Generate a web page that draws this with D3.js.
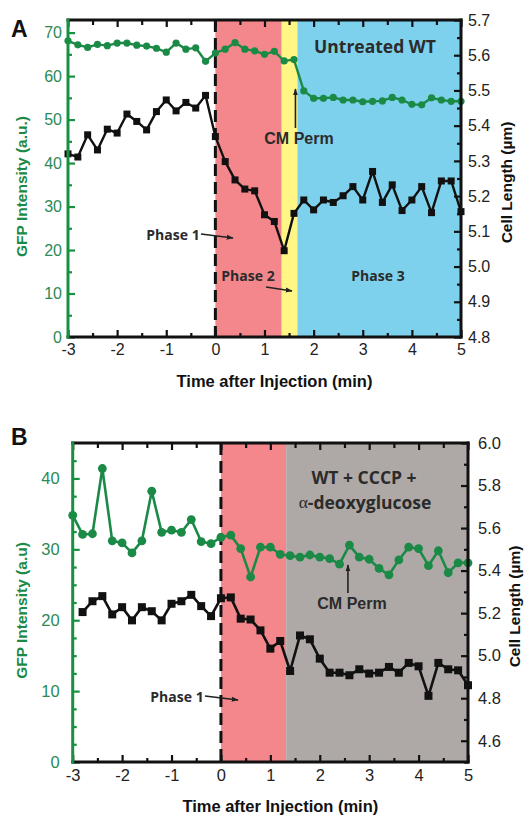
<!DOCTYPE html>
<html>
<head>
<meta charset="utf-8">
<script src="https://cdn.jsdelivr.net/npm/d3@7"></script>
<style>
  body { margin: 0; background: #fff; }
  svg { display: block; font-family: "Liberation Sans", Arial, sans-serif; }
</style>
</head>
<body>
<svg id="chart" width="526" height="819"></svg>
<script>
// ─── Data ─────────────────────────────────────────────────────────────────────
const timeMin = [-3, -2.8, -2.6, -2.4, -2.2, -2, -1.8, -1.6, -1.4, -1.2, -1, -0.8, -0.6, -0.4, -0.2,
                 0, 0.2, 0.4, 0.6, 0.8, 1, 1.2, 1.4, 1.6, 1.8, 2, 2.2, 2.4, 2.6, 2.8,
                 3, 3.2, 3.4, 3.6, 3.8, 4, 4.2, 4.4, 4.6, 4.8, 5];

// Panel A: untreated WT
const gfpUntreated = [68.1, 67.2, 66.6, 67.3, 67.0, 67.6, 67.6, 67.1, 66.9, 66.4, 65.5, 67.6, 66.2, 66.5, 63.4,
                      65.3, 66.2, 67.7, 66.2, 65.8, 65.0, 65.7, 63.5, 63.8, 56.6, 54.9, 54.9, 55.1, 54.5, 54.5,
                      54.1, 54.2, 54.3, 55.1, 54.5, 53.5, 53.4, 55.0, 54.5, 54.2, 54.2];
const lengthUntreated = [5.320, 5.311, 5.374, 5.331, 5.390, 5.379, 5.433, 5.412, 5.388, 5.440, 5.473, 5.442, 5.466, 5.450, 5.486,
                         5.369, 5.298, 5.246, 5.220, 5.215, 5.147, 5.128, 5.045, 5.151, 5.189, 5.161, 5.189, 5.182, 5.201, 5.227,
                         5.189, 5.270, 5.182, 5.232, 5.159, 5.189, 5.227, 5.153, 5.243, 5.243, 5.156];

// Panel B: WT + CCCP + alpha-deoxyglucose (no length point at -3)
const gfpCccp = [34.8, 32.1, 32.2, 41.4, 31.2, 30.9, 29.5, 31.2, 38.2, 32.4, 32.7, 32.4, 34.2, 31.1, 30.8,
                 31.7, 32.0, 30.1, 26.1, 30.3, 30.3, 29.3, 29.1, 28.9, 29.2, 28.9, 28.7, 27.9, 30.6, 28.9,
                 28.6, 27.3, 26.4, 28.5, 30.3, 30.1, 27.7, 29.8, 26.7, 28.1, 28.1];
const lengthCccp = [null, 5.205, 5.256, 5.280, 5.194, 5.228, 5.166, 5.228, 5.209, 5.166, 5.244, 5.256, 5.286, 5.233, 5.186,
                    5.270, 5.274, 5.174, 5.170, 5.119, 5.033, 5.069, 4.928, 5.095, 5.077, 4.986, 4.920, 4.920, 4.908, 4.936,
                    4.916, 4.920, 4.947, 4.920, 4.966, 4.950, 4.811, 4.966, 4.936, 4.931, 4.861];

// Phase bands (minutes)
const phasesUntreated = [
    { from: 0,    to: 1.35, fill: "#f4878b" },
    { from: 1.35, to: 1.67, fill: "#fff685" },
    { from: 1.67, to: 5,    fill: "#7ed1ec" },
];
const phasesCccp = [
    { from: 0,    to: 1.32, fill: "#f4878b" },
    { from: 1.32, to: 5,    fill: "#aea9a6" },
];

// Ticks
const timeTicks        = [-3, -2, -1, 0, 1, 2, 3, 4, 5];
const gfpTicksA        = [0, 10, 20, 30, 40, 50, 60, 70];
const lengthTicksA     = [4.8, 4.9, 5.0, 5.1, 5.2, 5.3, 5.4, 5.5, 5.6, 5.7];
const gfpTicksB        = [0, 10, 20, 30, 40];
const lengthTicksB     = [4.6, 4.8, 5.0, 5.2, 5.4, 5.6, 5.8, 6.0];

// ─── Styles ───────────────────────────────────────────────────────────────────
const GREEN      = "#1b8a47";
const GREEN_AXIS = "#17913f";
const GREEN_TEXT = "#2b8a57";
const INK        = "#2b2b2b";
const ANNOT_FONT = "'Open Sans', 'Noto Sans', sans-serif";

const svg = d3.select("#chart");

const defs = svg.append("defs");
defs.append("marker")
    .attr("id", "arrow")
    .attr("viewBox", "0 0 10 10")
    .attr("refX", 9).attr("refY", 5)
    .attr("markerWidth", 7).attr("markerHeight", 7)
    .attr("markerUnits", "userSpaceOnUse")
    .attr("orient", "auto")
  .append("path")
    .attr("d", "M0,1.5 L10,5 L0,8.5 Z")
    .attr("fill", "#222");

// ─── Panel drawing ────────────────────────────────────────────────────────────
function drawPanel(p) {
    const g = svg.append("g");

    const x  = d3.scaleLinear().domain([-3, 5]).range([p.left, p.right]);
    const yL = d3.scaleLinear().domain(p.gfpDomain).range([p.bottom, p.top]);
    const yR = d3.scaleLinear().domain(p.lenDomain).range([p.bottom, p.top]);

    // phase backgrounds
    g.selectAll("rect.phase")
        .data(p.phases)
        .join("rect")
        .attr("class", "phase")
        .attr("x", d => x(d.from))
        .attr("width", d => x(d.to) - x(d.from))
        .attr("y", p.top)
        .attr("height", p.bottom - p.top)
        .attr("fill", d => d.fill);

    // injection line
    g.append("line")
        .attr("x1", x(0)).attr("x2", x(0))
        .attr("y1", p.top).attr("y2", p.bottom)
        .attr("stroke", "#111")
        .attr("stroke-width", 3)
        .attr("stroke-dasharray", "12,6");

    // cell length (black squares, right axis)
    const lenPts = timeMin.map((t, i) => ({ t, v: p.length[i] })).filter(d => d.v != null);
    g.append("path")
        .datum(lenPts)
        .attr("fill", "none")
        .attr("stroke", "#111")
        .attr("stroke-width", p.lineW)
        .attr("stroke-linejoin", "round")
        .attr("d", d3.line().x(d => x(d.t)).y(d => yR(d.v)));
    g.selectAll("rect.sq")
        .data(lenPts)
        .join("rect")
        .attr("class", "sq")
        .attr("x", d => x(d.t) - p.sq / 2)
        .attr("y", d => yR(d.v) - p.sq / 2)
        .attr("width", p.sq).attr("height", p.sq)
        .attr("fill", "#111");

    // GFP (green circles, left axis)
    const gfpPts = timeMin.map((t, i) => ({ t, v: p.gfp[i] }));
    g.append("path")
        .datum(gfpPts)
        .attr("fill", "none")
        .attr("stroke", GREEN)
        .attr("stroke-width", p.lineW)
        .attr("stroke-linejoin", "round")
        .attr("d", d3.line().x(d => x(d.t)).y(d => yL(d.v)));
    g.selectAll("circle.dot")
        .data(gfpPts)
        .join("circle")
        .attr("class", "dot")
        .attr("cx", d => x(d.t))
        .attr("cy", d => yL(d.v))
        .attr("r", p.dotR)
        .attr("fill", GREEN);

    // ── axes (inward ticks, domains drawn as frame lines) ──
    const noDomain = sel => sel.select(".domain").remove();
    const styleTicks = (sel, color) => {
        sel.selectAll(".tick line").attr("stroke", color).attr("stroke-width", 2.2);
        sel.selectAll(".tick text").attr("fill", color).attr("font-size", p.tickFont);
    };

    const minorTime = d3.range(-2.5, 5, 1);

    // bottom
    g.append("g").attr("transform", `translate(0,${p.bottom})`)
        .call(d3.axisBottom(x).tickValues(timeTicks).tickSize(-7).tickPadding(7).tickFormat(d => String(d)))
        .call(noDomain).call(s => styleTicks(s, "#111"))
        .call(s => s.selectAll(".tick text").attr("fill", "#222"));
    g.append("g").attr("transform", `translate(0,${p.bottom})`)
        .call(d3.axisBottom(x).tickValues(minorTime).tickSize(-4).tickFormat(""))
        .call(noDomain).call(s => styleTicks(s, "#111"));

    // top
    g.append("g").attr("transform", `translate(0,${p.top})`)
        .call(d3.axisTop(x).tickValues(timeTicks).tickSize(-7).tickFormat(""))
        .call(noDomain).call(s => styleTicks(s, "#111"));
    g.append("g").attr("transform", `translate(0,${p.top})`)
        .call(d3.axisTop(x).tickValues(minorTime).tickSize(-5).tickFormat(""))
        .call(noDomain).call(s => styleTicks(s, "#111"));

    // left (GFP)
    g.append("g").attr("transform", `translate(${p.left},0)`)
        .call(d3.axisLeft(yL).tickValues(p.gfpTicks).tickSize(-7).tickPadding(p.leftPad).tickFormat(d => String(d)))
        .call(noDomain).call(s => styleTicks(s, GREEN_AXIS))
        .call(s => s.selectAll(".tick text").attr("fill", GREEN_TEXT));
    g.append("g").attr("transform", `translate(${p.left},0)`)
        .call(d3.axisLeft(yL).tickValues(p.gfpMinor).tickSize(-4).tickFormat(""))
        .call(noDomain).call(s => styleTicks(s, GREEN_AXIS));

    // right (cell length)
    g.append("g").attr("transform", `translate(${p.right},0)`)
        .call(d3.axisRight(yR).tickValues(p.lenTicks).tickSize(-7).tickPadding(p.rightPad).tickFormat(d3.format(".1f")))
        .call(noDomain).call(s => styleTicks(s, "#111"))
        .call(s => s.selectAll(".tick text").attr("fill", "#222"));
    g.append("g").attr("transform", `translate(${p.right},0)`)
        .call(d3.axisRight(yR).tickValues(p.lenMinor).tickSize(-4).tickFormat(""))
        .call(noDomain).call(s => styleTicks(s, "#111"));

    // frame
    const frame = [
        { x1: p.left,  y1: p.top,    x2: p.right, y2: p.top,    c: "#111" },
        { x1: p.left,  y1: p.bottom, x2: p.right, y2: p.bottom, c: "#111" },
        { x1: p.right, y1: p.top,    x2: p.right, y2: p.bottom, c: "#111" },
        { x1: p.left,  y1: p.top,    x2: p.left,  y2: p.bottom, c: GREEN_AXIS },
    ];
    g.selectAll("line.frame")
        .data(frame)
        .join("line")
        .attr("class", "frame")
        .attr("x1", d => d.x1).attr("y1", d => d.y1)
        .attr("x2", d => d.x2).attr("y2", d => d.y2)
        .attr("stroke", d => d.c)
        .attr("stroke-width", 3)
        .attr("stroke-linecap", "square");

    // titles
    g.append("text")
        .attr("x", (p.left + p.right) / 2 + 10)
        .attr("y", p.bottom + 50)
        .attr("text-anchor", "middle")
        .attr("font-weight", "bold")
        .attr("font-size", 16.5)
        .attr("fill", "#111")
        .text("Time after Injection (min)");

    g.append("text")
        .attr("transform", `translate(${p.leftTitleX},${(p.top + p.bottom) / 2 + 8}) rotate(-90)`)
        .attr("text-anchor", "middle")
        .attr("font-weight", "bold")
        .attr("font-size", 15.5)
        .attr("fill", GREEN)
        .text(p.gfpTitle);

    g.append("text")
        .attr("transform", `translate(${p.rightTitleX},${(p.top + p.bottom) / 2 + 4}) rotate(-90)`)
        .attr("text-anchor", "middle")
        .attr("font-weight", "bold")
        .attr("font-size", 15.5)
        .attr("fill", "#111")
        .text("Cell Length (\u00b5m)");

    g.append("text")
        .attr("x", 11)
        .attr("y", p.top + p.letterDy)
        .attr("font-weight", "bold")
        .attr("font-size", 23)
        .attr("fill", "#111")
        .text(p.letter);

    return { g, x, yL, yR };
}

// ─── Panel A ──────────────────────────────────────────────────────────────────
const A = drawPanel({
    left: 68, right: 461, top: 20, bottom: 337,
    gfpDomain: [0, 72.9], lenDomain: [4.8, 5.7],
    gfp: gfpUntreated, length: lengthUntreated, phases: phasesUntreated,
    gfpTicks: gfpTicksA, gfpMinor: d3.range(5, 75, 10),
    lenTicks: lengthTicksA, lenMinor: d3.range(4.85, 5.7, 0.1),
    gfpTitle: "GFP Intensity (a.u.)",
    tickFont: 16, leftPad: 6, rightPad: 7,
    leftTitleX: 27, rightTitleX: 512,
    lineW: 2.4, sq: 7, dotR: 3.6,
    letter: "A", letterDy: 17,
});

// ─── Panel B ──────────────────────────────────────────────────────────────────
const B = drawPanel({
    left: 72.7, right: 468, top: 443, bottom: 762,
    gfpDomain: [0, 45], lenDomain: [4.5, 6.0],
    gfp: gfpCccp, length: lengthCccp, phases: phasesCccp,
    gfpTicks: gfpTicksB, gfpMinor: [2.5, 5, 7.5, 12.5, 15, 17.5, 22.5, 25, 27.5, 32.5, 35, 37.5, 42.5],
    lenTicks: lengthTicksB, lenMinor: d3.range(4.5, 6.0, 0.2),
    gfpTitle: "GFP Intensity (a.u)",
    tickFont: 16.5, leftPad: 13, rightPad: 10,
    leftTitleX: 27, rightTitleX: 520,
    lineW: 2.6, sq: 8, dotR: 4.4,
    letter: "B", letterDy: 2,
});

// ─── Annotations ──────────────────────────────────────────────────────────────
function label(g, x, y, text, size, font, anchor = "middle") {
    g.append("text")
        .attr("x", x).attr("y", y)
        .attr("text-anchor", anchor)
        .attr("dominant-baseline", "central")
        .attr("font-family", font)
        .attr("font-weight", "bold")
        .attr("font-size", size)
        .attr("fill", INK)
        .text(text);
}
function arrow(g, x1, y1, x2, y2) {
    g.append("line")
        .attr("x1", x1).attr("y1", y1)
        .attr("x2", x2).attr("y2", y2)
        .attr("stroke", "#222")
        .attr("stroke-width", 1.6)
        .attr("marker-end", "url(#arrow)");
}

// A
label(A.g, 375, 46, "Untreated WT", 17.5, ANNOT_FONT);
label(A.g, 299, 138, "CM Perm", 16, "'Liberation Sans', Arial, sans-serif");
arrow(A.g, A.x(1.63), 128, A.x(1.63), 89);
label(A.g, 173, 234, "Phase 1", 14, ANNOT_FONT);
arrow(A.g, 201, 234, 233, 238);
label(A.g, 248, 275, "Phase 2", 14, ANNOT_FONT);
arrow(A.g, 266, 287, 292, 291);
label(A.g, 378, 275, "Phase 3", 14, ANNOT_FONT);

// B
label(B.g, 364, 477, "WT + CCCP +", 17.5, ANNOT_FONT);
B.g.append("text")
    .attr("x", 365).attr("y", 502)
    .attr("text-anchor", "middle")
    .attr("dominant-baseline", "central")
    .attr("font-size", 17.5)
    .attr("fill", INK)
    .call(t => t.append("tspan").attr("font-family", "'Liberation Serif', serif").text("\u03b1"))
    .call(t => t.append("tspan").attr("font-family", ANNOT_FONT).attr("font-weight", "bold").text("-deoxyglucose"));
label(B.g, 352, 603, "CM Perm", 16, "'Liberation Sans', Arial, sans-serif");
arrow(B.g, B.x(2.57), 593, B.x(2.57), 565);
label(B.g, 177, 696, "Phase 1", 14, ANNOT_FONT);
arrow(B.g, 205, 696, 238, 700);
</script>
</body>
</html>
